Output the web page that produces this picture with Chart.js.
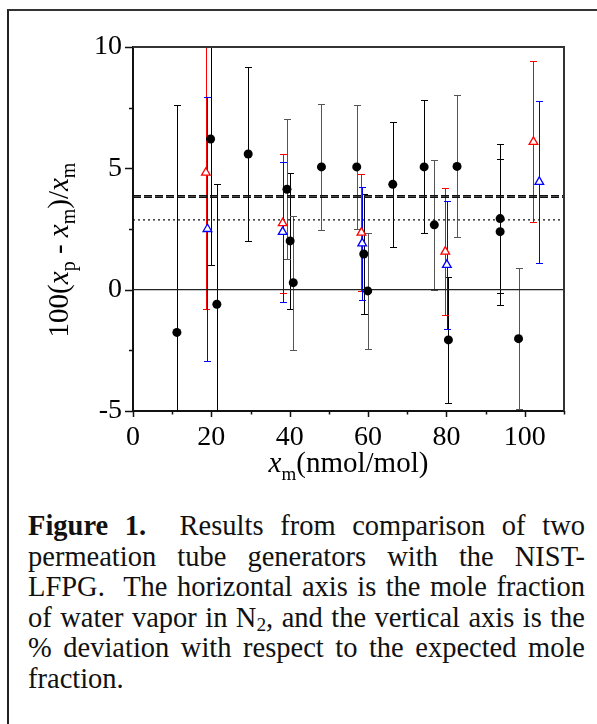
<!DOCTYPE html>
<html>
<head>
<meta charset="utf-8">
<script src="https://cdn.jsdelivr.net/npm/chart.js@4.4.0/dist/chart.umd.min.js"></script>
<style>
  html, body { margin: 0; padding: 0; background: #fff; }
  body { width: 597px; height: 724px; position: relative; overflow: hidden; }
  #frame { position: absolute; left: 7px; top: 9px; width: 640px; height: 760px;
           border-left: 2px solid #222; border-top: 2px solid #333; }
  #wrap { position: absolute; left: 0; top: 0; width: 597px; height: 500px; }
  .cap { position: absolute; left: 28px; top: 511px; width: 557px;
         font-family: "Liberation Serif", "Times New Roman", serif; font-size: 28.5px; color: #111; }
  .cap div { height: 30.5px; line-height: 30.5px; text-align: justify; text-align-last: justify; }
  .cap div.last { text-align: left; text-align-last: left; }
  .cap sub { font-size: 0.68em; vertical-align: -0.22em; line-height: 0; }
</style>
</head>
<body>
<div id="frame"></div>
<div id="wrap"><canvas id="chart" width="597" height="500"></canvas></div>
<div class="cap">
  <div><b>Figure 1.</b>&nbsp; Results from comparison of two</div>
  <div>permeation tube generators with the NIST-</div>
  <div>LFPG.&nbsp; The horizontal axis is the mole fraction</div>
  <div>of water vapor in N<sub>2</sub>, and the vertical axis is the</div>
  <div>% deviation with respect to the expected mole</div>
  <div class="last">fraction.</div>
</div>
<script>
// NIST-LFPG points, black error bars
const blackX   = [11.2, 19.8, 21.4, 29.4, 40.1, 58.9, 66.3, 74.3, 80.5, 93.7, 93.7];
const blackY   = [-1.76, 6.21, -0.60, 5.59, 2.01, 1.47, 4.34, 5.06, -2.07, 2.93, 2.39];
const blackErr = [9.38, 5.19, 4.95, 3.60, 2.79, 2.46, 2.57, 2.74, 2.58, 3.06, 3.01];
// NIST-LFPG points, grey error bars
const greyX   = [39.3, 40.9, 48.1, 57.1, 59.9, 76.9, 82.7, 98.4];
const greyY   = [4.14, 0.29, 5.06, 5.06, -0.05, 2.67, 5.08, -2.02];
const greyErr = [2.89, 2.76, 2.60, 2.56, 2.40, 2.67, 2.93, 2.90];
// permeation tube generator 1 (red)
const redX   = [18.6, 38.2, 58.3, 79.7, 102.2];
const redY   = [4.82, 2.74, 2.35, 1.57, 6.09];
const redErr = [5.63, 2.86, 2.40, 2.62, 3.32];
// permeation tube generator 2 (blue)
const blueX   = [19.0, 38.2, 58.5, 80.1, 103.7];
const blueY   = [2.50, 2.38, 1.91, 1.02, 4.44];
const blueErr = [5.45, 2.87, 2.33, 2.63, 3.35];
// horizontal reference lines
const zeroLine = 0;
const dashedLines = [3.87, 3.81];
const dottedLine = 2.88;
const xRange = [0, 110];
const yRange = [-5, 10];
const xTickLabels = [0, 20, 40, 60, 80, 100];
const yTickLabels = [-5, 0, 5, 10];

const serif = "Liberation Serif";
Chart.defaults.font.family = serif;
Chart.defaults.color = '#000';

const pts = (xs, ys) => xs.map((x, i) => ({ x: x, y: ys[i] }));
const hline = v => [{ x: xRange[0], y: v }, { x: xRange[1], y: v }];

const errorBars = {
  id: 'errorBars',
  beforeDatasetsDraw(chart) {
    const { ctx, chartArea: a, scales: { x, y } } = chart;
    ctx.save();
    ctx.beginPath();
    ctx.rect(a.left, a.top, a.right - a.left, a.bottom - a.top);
    ctx.clip();
    chart.data.datasets.forEach(ds => {
      if (!ds.errors) return;
      ctx.strokeStyle = ds.errColor;
      ctx.lineWidth = 1;
      ds.data.forEach((p, i) => {
        const px = Math.round(x.getPixelForValue(p.x)) + 0.5;
        const top = Math.round(y.getPixelForValue(p.y + ds.errors[i])) + 0.5;
        const bot = Math.round(y.getPixelForValue(p.y - ds.errors[i])) + 0.5;
        ctx.beginPath();
        ctx.moveTo(px, top); ctx.lineTo(px, bot);
        ctx.moveTo(px - 3.5, top); ctx.lineTo(px + 3.5, top);
        ctx.moveTo(px - 3.5, bot); ctx.lineTo(px + 3.5, bot);
        ctx.stroke();
      });
    });
    ctx.restore();
  }
};

function drawRich(ctx, parts, size, subSize, subDrop) {
  let w = 0;
  parts.forEach(p => {
    ctx.font = (p.it ? 'italic ' : '') + (p.sub ? subSize : size) + 'px "' + serif + '"';
    p.w = ctx.measureText(p.t).width;
    w += p.w;
  });
  let cx = -w / 2;
  parts.forEach(p => {
    ctx.font = (p.it ? 'italic ' : '') + (p.sub ? subSize : size) + 'px "' + serif + '"';
    ctx.fillText(p.t, cx, p.sub ? subDrop : 0);
    cx += p.w;
  });
}

const axesDeco = {
  id: 'axesDeco',
  afterDraw(chart) {
    const { ctx, chartArea: a, scales: { x, y } } = chart;
    ctx.save();
    ctx.strokeStyle = '#111';
    ctx.lineWidth = 1.5;
    // tick marks
    ctx.beginPath();
    x.ticks.forEach(t => {
      const px = Math.round(x.getPixelForValue(t.value)) + 0.5;
      const len = t.value % 20 === 0 ? 6 : 3.5;
      ctx.moveTo(px, a.bottom); ctx.lineTo(px, a.bottom + len);
    });
    y.ticks.forEach(t => {
      const py = Math.round(y.getPixelForValue(t.value)) + 0.5;
      const len = t.value % 5 === 0 ? 8 : 4;
      ctx.moveTo(a.left, py); ctx.lineTo(a.left - len, py);
    });
    ctx.stroke();
    // top and right frame of plot
    ctx.strokeStyle = '#333';
    ctx.lineWidth = 2;
    ctx.beginPath();
    ctx.moveTo(a.left, a.top); ctx.lineTo(a.right, a.top); ctx.lineTo(a.right, a.bottom);
    ctx.stroke();
    // axis titles
    ctx.fillStyle = '#000';
    ctx.textBaseline = 'alphabetic';
    ctx.textAlign = 'left';
    ctx.save();
    ctx.translate((a.left + a.right) / 2, 472);
    drawRich(ctx, [
      { t: 'x', it: true }, { t: 'm', sub: true }, { t: '(nmol/mol)' }
    ], 29, 19, 8);
    ctx.restore();
    ctx.save();
    ctx.translate(67.5, 250);
    ctx.rotate(-Math.PI / 2);
    drawRich(ctx, [
      { t: '100(' }, { t: 'x', it: true }, { t: 'p', sub: true }, { t: ' - ' },
      { t: 'x', it: true }, { t: 'm', sub: true }, { t: ')/' },
      { t: 'x', it: true }, { t: 'm', sub: true }
    ], 29, 20, 7);
    ctx.restore();
    ctx.restore();
  }
};

new Chart(document.getElementById('chart'), {
  type: 'scatter',
  data: {
    datasets: [
      { data: pts(blackX, blackY), errors: blackErr, errColor: '#000',
        pointStyle: 'circle', pointRadius: 4.5, backgroundColor: '#000', borderColor: '#000', borderWidth: 0 },
      { data: pts(greyX, greyY), errors: greyErr, errColor: '#555',
        pointStyle: 'circle', pointRadius: 4.5, backgroundColor: '#000', borderColor: '#000', borderWidth: 0 },
      { data: pts(redX, redY), errors: redErr, errColor: '#ff0000',
        pointStyle: 'triangle', pointRadius: 5, backgroundColor: '#fff', borderColor: '#ff0000', borderWidth: 1.3 },
      { data: pts(blueX, blueY), errors: blueErr, errColor: '#0000ff',
        pointStyle: 'triangle', pointRadius: 5, backgroundColor: '#fff', borderColor: '#0000ff', borderWidth: 1.3 },
      { type: 'line', data: hline(zeroLine), borderColor: '#222', borderWidth: 1.2, pointRadius: 0 },
      { type: 'line', data: hline(dashedLines[0]), borderColor: '#111', borderWidth: 1.5, borderDash: [8, 3], pointRadius: 0 },
      { type: 'line', data: hline(dashedLines[1]), borderColor: '#111', borderWidth: 1.5, borderDash: [8, 3], pointRadius: 0 },
      { type: 'line', data: hline(dottedLine), borderColor: '#111', borderWidth: 1.3, borderDash: [2, 3], pointRadius: 0 }
    ]
  },
  options: {
    responsive: false,
    animation: false,
    layout: { padding: { left: 0, top: 47, right: 33, bottom: 0 } },
    plugins: { legend: { display: false }, tooltip: { enabled: false } },
    scales: {
      x: {
        type: 'linear', min: xRange[0], max: xRange[1],
        afterFit: s => { s.height = 89; },
        grid: { display: false, drawTicks: false },
        border: { display: true, color: '#111', width: 2 },
        ticks: {
          stepSize: 10, autoSkip: false, maxRotation: 0, padding: 10, color: '#000',
          font: { family: serif, size: 28 },
          callback: v => xTickLabels.includes(v) ? String(v) : ''
        }
      },
      y: {
        min: yRange[0], max: yRange[1],
        afterFit: s => { s.width = 133; },
        grid: { display: false, drawTicks: false },
        border: { display: true, color: '#111', width: 2 },
        ticks: {
          stepSize: 2.5, autoSkip: false, padding: 11, color: '#000',
          font: { family: serif, size: 28 },
          callback: v => yTickLabels.includes(v) ? String(v) : ''
        }
      }
    }
  },
  plugins: [errorBars, axesDeco]
});
</script>
</body>
</html>
